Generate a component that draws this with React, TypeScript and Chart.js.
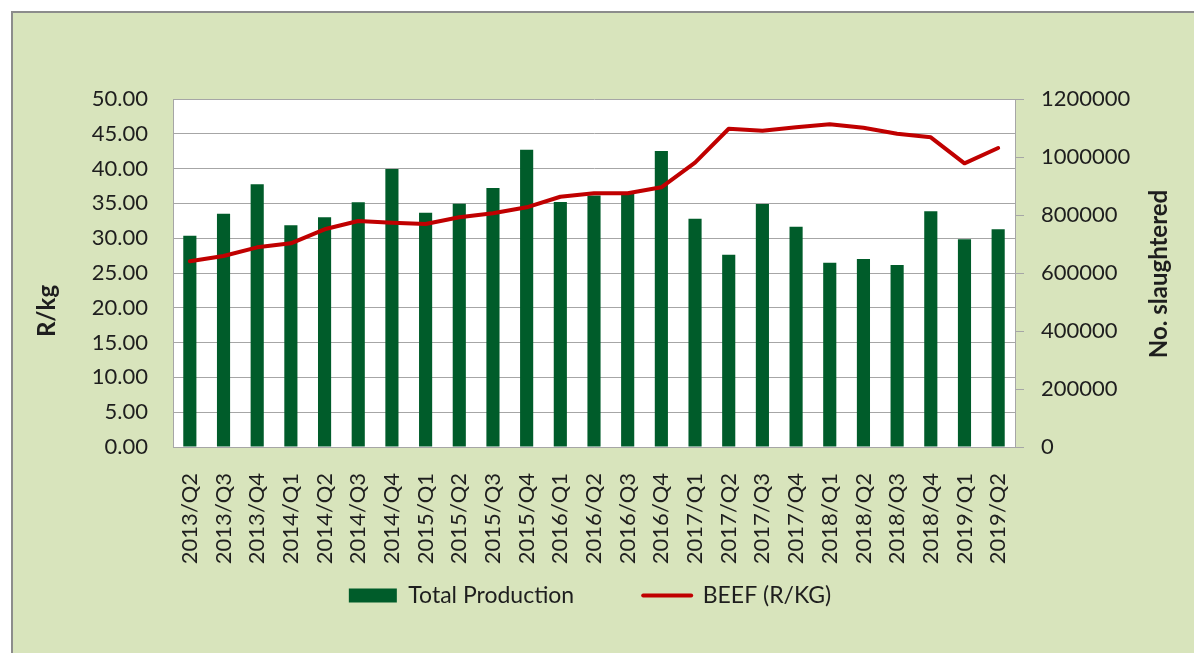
import React, { useEffect, useRef } from 'react';
import { Chart, registerables } from 'chart.js';

Chart.register(...registerables);

const categories = [
  '2013/Q2', '2013/Q3', '2013/Q4', '2014/Q1', '2014/Q2', '2014/Q3', '2014/Q4',
  '2015/Q1', '2015/Q2', '2015/Q3', '2015/Q4', '2016/Q1', '2016/Q2', '2016/Q3',
  '2016/Q4', '2017/Q1', '2017/Q2', '2017/Q3', '2017/Q4', '2018/Q1', '2018/Q2',
  '2018/Q3', '2018/Q4', '2019/Q1', '2019/Q2',
];

const totalProduction = [
  728600, 804500, 905800, 764400, 792000, 843700, 958600,
  808000, 839000, 893100, 1025000, 844800, 867000, 875000,
  1020700, 787400, 663200, 838000, 759800, 635700, 648300,
  627600, 812700, 716100, 750600,
];

const beefPrice = [
  26.68, 27.44, 28.69, 29.27, 31.28, 32.47, 32.23,
  32.04, 33.0, 33.58, 34.44, 35.96, 36.45, 36.45,
  37.31, 40.85, 45.73, 45.45, 45.93, 46.36, 45.88,
  45.02, 44.49, 40.76, 42.96,
];

const leftAxisRange = [0, 50, 5];
const rightAxisRange = [0, 1200000, 200000];

const seriesLabels = ['Total Production', 'BEEF (R/KG)'];
const axisTitles = ['R/kg', 'No. slaughtered'];

const FONT = 'Lato';
const TEXT = '#1E1E1E';
const GRID = '#A6A6A6';
const GREEN = '#005C2A';
const RED = '#C00000';

const plotBackground = {
  id: 'plotBackground',
  beforeDraw(chart: any) {
    const { ctx, chartArea } = chart;
    ctx.save();
    ctx.fillStyle = '#FFFFFF';
    ctx.fillRect(chartArea.left, chartArea.top, chartArea.right - chartArea.left, chartArea.bottom - chartArea.top);
    ctx.restore();
  },
};

const verticalTitles = {
  id: 'verticalTitles',
  afterDraw(chart: any) {
    const { ctx } = chart;
    ctx.save();
    ctx.fillStyle = TEXT;
    ctx.font = `bold 24px ${FONT}`;
    ctx.textAlign = 'center';
    ctx.textBaseline = 'middle';
    const draw = (text: string, x: number, y: number) => {
      ctx.save();
      ctx.translate(x, y);
      ctx.rotate(-Math.PI / 2);
      ctx.fillText(text, 0, 0);
      ctx.restore();
    };
    draw(axisTitles[0], 47, 311);
    draw(axisTitles[1], 1159, 274);
    ctx.restore();
  },
};

export default function App() {
  const ref = useRef<HTMLCanvasElement>(null);

  useEffect(() => {
    const canvas = ref.current;
    if (!canvas) return;
    const chart = new Chart(canvas, {
      type: 'bar',
      data: {
        labels: categories,
        datasets: [
          {
            type: 'bar',
            label: seriesLabels[0],
            data: totalProduction,
            backgroundColor: GREEN,
            borderWidth: 0,
            barPercentage: 0.39,
            categoryPercentage: 1.0,
            yAxisID: 'y1',
            order: 1,
          } as any,
          {
            type: 'line',
            label: seriesLabels[1],
            data: beefPrice,
            borderColor: RED,
            backgroundColor: RED,
            borderWidth: 4,
            borderCapStyle: 'round',
            borderJoinStyle: 'round',
            pointRadius: 0,
            pointHoverRadius: 0,
            tension: 0,
            fill: false,
            yAxisID: 'y',
            order: 0,
          } as any,
        ],
      },
      options: {
        responsive: false,
        animation: false,
        devicePixelRatio: 1,
        layout: { padding: { left: 0, right: 14, top: 99, bottom: 36 } },
        plugins: {
          tooltip: { enabled: false },
          legend: {
            position: 'bottom',
            labels: {
              usePointStyle: true,
              pointStyleWidth: 48,
              boxHeight: 14,
              padding: 69,
              color: TEXT,
              font: { family: FONT, size: 23 },
              sort: (a: any, b: any) => a.datasetIndex - b.datasetIndex,
              generateLabels: (c: any) => {
                const items = (Chart as any).defaults.plugins.legend.labels.generateLabels(c);
                return items.map((it: any) =>
                  it.datasetIndex === 0
                    ? { ...it, pointStyle: 'rect', lineWidth: 0, fillStyle: GREEN }
                    : { ...it, pointStyle: 'line', lineWidth: 4, strokeStyle: RED, lineCap: 'round' }
                );
              },
            },
          },
        },
        scales: {
          x: {
            offset: true,
            grid: { display: false },
            border: { display: true, color: GRID },
            ticks: {
              autoSkip: false,
              minRotation: 90,
              maxRotation: 90,
              padding: 18,
              color: TEXT,
              font: { family: FONT, size: 22 },
            },
            afterFit: (s: any) => {
              s.height = 68;
              s._computeLabelArea = () => undefined;
            },
          },
          y: {
            position: 'left',
            min: leftAxisRange[0],
            max: leftAxisRange[1],
            grid: { color: GRID, drawTicks: false, lineWidth: 1 },
            border: { display: true, color: GRID },
            ticks: {
              stepSize: leftAxisRange[2],
              padding: 25,
              color: TEXT,
              font: { family: FONT, size: 22 },
              callback: (v: any) => Number(v).toFixed(2),
            },
            afterFit: (s: any) => { s.width = 173; },
          },
          y1: {
            position: 'right',
            min: rightAxisRange[0],
            max: rightAxisRange[1],
            grid: { drawOnChartArea: false, drawTicks: true, tickLength: 9, color: GRID },
            border: { display: true, color: GRID },
            ticks: {
              stepSize: rightAxisRange[2],
              padding: 17,
              color: TEXT,
              font: { family: FONT, size: 22 },
              callback: (v: any) => String(v),
            },
            afterFit: (s: any) => { s.width = 165; },
          },
        },
      },
      plugins: [plotBackground, verticalTitles],
    });
    return () => chart.destroy();
  }, []);

  return (
    <div style={{ position: 'fixed', left: 0, top: 0, width: 1194, height: 653, background: '#FFFFFF', overflow: 'hidden' }}>
      <div
        style={{
          position: 'absolute',
          left: 11,
          top: 11,
          width: 1300,
          height: 700,
          background: '#D8E4BC',
          borderTop: '2px solid #8C8C8C',
          borderLeft: '2px solid #8C8C8C',
        }}
      />
      <canvas
        ref={ref}
        width={1194}
        height={653}
        style={{ position: 'absolute', left: 0, top: 0, width: 1194, height: 653 }}
      />
    </div>
  );
}
